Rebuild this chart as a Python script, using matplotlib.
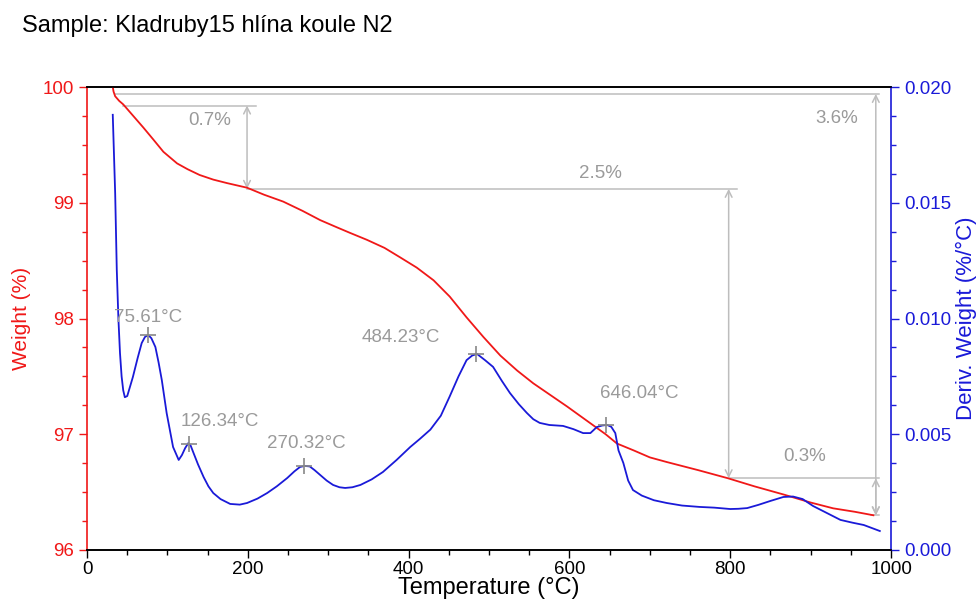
import matplotlib
matplotlib.use("Agg")
import matplotlib.pyplot as plt
from matplotlib.ticker import MultipleLocator, FormatStrFormatter

plt.rcParams['font.family'] = ['Liberation Sans', 'DejaVu Sans']

# ---- data ----
temp_w = [32, 33, 35, 40, 45, 50, 60, 70, 82, 95, 112, 125, 140, 157, 174, 199, 220, 244, 268, 290,
          310, 327, 348, 370, 389, 410, 431, 451, 472, 493, 514, 535, 555, 576, 597, 613, 629,
          645, 659, 680, 700, 721, 760, 797, 830, 866, 900, 928, 955, 978]
weight = [100.0, 99.96, 99.92, 99.88, 99.85, 99.81, 99.73, 99.65, 99.55, 99.44, 99.34, 99.29, 99.24,
          99.20, 99.17, 99.13, 99.07, 99.01, 98.93, 98.85, 98.79, 98.74, 98.68, 98.61, 98.53,
          98.44, 98.33, 98.19, 98.01, 97.84, 97.68, 97.55, 97.44, 97.34, 97.24, 97.16, 97.08,
          97.00, 96.92, 96.86, 96.80, 96.76, 96.69, 96.62, 96.55, 96.48, 96.41, 96.36, 96.33, 96.30]

temp_d = [32, 35, 37, 39, 41, 43, 45, 47, 50, 53, 57, 63, 68, 72, 76, 80, 85, 89, 93, 99, 107, 114, 118,
          122, 126, 129, 132, 138, 145, 151, 157, 166, 178, 190, 199, 212, 224, 236, 249, 258,
          265, 271, 277, 283, 290, 298, 306, 314, 321, 330, 340, 354, 368, 385, 402, 414, 427,
          440, 451, 462, 472, 479, 485, 495, 505, 516, 526, 537, 547, 555, 563, 575, 592, 605,
          617, 626, 634, 641, 647, 652, 657, 661, 667, 673, 679, 690, 705, 721, 740, 762, 780,
          800, 810, 821, 835, 850, 866, 878, 890, 903, 920, 937, 952, 966, 986]
deriv = [0.0188, 0.0154, 0.0121, 0.0100, 0.0085, 0.0075, 0.0069, 0.00660, 0.00665, 0.00700,
         0.00747, 0.00830, 0.00894,
         0.00920, 0.00929, 0.00915, 0.00877, 0.00810, 0.00734, 0.00592, 0.00445, 0.00389, 0.00410,
         0.00440, 0.00462, 0.00450, 0.00423, 0.00370, 0.00315, 0.00275, 0.00246, 0.00220, 0.00199,
         0.00196, 0.00203, 0.00222, 0.00246, 0.00275, 0.00311, 0.00340, 0.00359, 0.00363, 0.00361,
         0.00345, 0.00324, 0.00300, 0.00281, 0.00271, 0.00268, 0.00271, 0.00281, 0.00305, 0.00337,
         0.00389, 0.00445, 0.00480, 0.00520, 0.00580, 0.00663, 0.00750, 0.00820, 0.00840, 0.00847,
         0.00820, 0.00791, 0.00730, 0.00678, 0.00630, 0.00592, 0.00565, 0.00549, 0.00540, 0.00536,
         0.00522, 0.00505, 0.00505, 0.00531, 0.00538, 0.00540, 0.00532, 0.00505, 0.00430, 0.00376,
         0.00300, 0.00259, 0.00235, 0.00215, 0.00203, 0.00192, 0.00186, 0.00183, 0.00177, 0.00178,
         0.00181, 0.00195, 0.00212, 0.00229, 0.00231, 0.00220, 0.00190, 0.00160, 0.00130, 0.00118,
         0.00108, 0.00082]

peak_t = [75.61, 126.34, 270.32, 484.23, 646.04]
peak_d = [0.00929, 0.00458, 0.00361, 0.00847, 0.00540]
peak_labels = ["75.61°C", "126.34°C", "270.32°C", "484.23°C", "646.04°C"]
peak_label_pos = [(76.5, 0.01006), (165, 0.00553), (273, 0.00462), (390, 0.00920), (687, 0.00674)]

# weight-step annotations: (x of arrow, top weight, bottom weight, label, label x, label y)
steps = [(199, 99.84, 99.12, "0.7%", 153, 99.71),
         (798, 99.12, 96.62, "2.5%", 638, 99.25),
         (981, 96.62, 96.30, "0.3%", 892, 96.81),
         (981, 99.94, 96.30, "3.6%", 932, 99.73)]
hlines = [(99.94, 35, 985), (99.84, 45, 210), (99.12, 199, 808), (96.62, 798, 985), (96.30, 975, 985)]

RED = '#f01818'
BLUE = '#1a1ad8'
GRAY = '#9a9a9a'
LGRAY = '#bdbdbd'

fig = plt.figure(figsize=(9.79, 6.03), dpi=100)
ax1 = fig.add_axes([0.0889, 0.0879, 0.8213, 0.7678])
ax2 = ax1.twinx()

ax1.plot(temp_w, weight, color=RED, lw=1.3, zorder=3)
ax2.plot(temp_d, deriv, color=BLUE, lw=1.3, zorder=3)

# annotations on weight axis
for y, x0, x1 in hlines:
    ax1.plot([x0, x1], [y, y], color=LGRAY, lw=1.1, zorder=1)
for x, ytop, ybot, lab, lx, ly in steps:
    ax1.annotate('', xy=(x, ybot), xytext=(x, ytop),
                 arrowprops=dict(arrowstyle='<->', color=LGRAY, lw=1.1,
                                 shrinkA=0, shrinkB=0, mutation_scale=12), zorder=1)
    ax1.text(lx, ly, lab, color=GRAY, fontsize=13.5, ha='center', va='center')

ax2.plot(peak_t, peak_d, linestyle='none', marker='+', ms=11, mew=1.2, color='#888888', zorder=4)
for (lx, ly), lab in zip(peak_label_pos, peak_labels):
    ax2.text(lx, ly, lab, color=GRAY, fontsize=13.5, ha='center', va='center')

ax1.set_xlim(0, 1000)
ax1.set_ylim(96, 100)
ax2.set_ylim(0, 0.020)

ax1.xaxis.set_major_locator(MultipleLocator(200))
ax1.xaxis.set_minor_locator(MultipleLocator(50))
ax1.yaxis.set_major_locator(MultipleLocator(1))
ax1.yaxis.set_minor_locator(MultipleLocator(0.25))
ax2.yaxis.set_major_locator(MultipleLocator(0.005))
ax2.yaxis.set_minor_locator(MultipleLocator(0.00125))
ax2.yaxis.set_major_formatter(FormatStrFormatter('%.3f'))
ax1.yaxis.set_major_formatter(FormatStrFormatter('%d'))

ax1.tick_params(axis='x', which='major', direction='out', length=6, width=1, labelsize=13.5, colors='black')
ax1.tick_params(axis='x', which='minor', direction='out', length=3.5, width=1, colors='black')
ax1.tick_params(axis='y', which='major', direction='out', length=6, width=1, labelsize=13.5, colors=RED)
ax1.tick_params(axis='y', which='minor', direction='out', length=3.5, width=1, colors=RED)
ax2.tick_params(axis='y', which='major', direction='out', length=6, width=1, labelsize=13.5, colors=BLUE)
ax2.tick_params(axis='y', which='minor', direction='out', length=3.5, width=1, colors=BLUE)
ax1.tick_params(axis='x', pad=2)

for ax in (ax1, ax2):
    ax.spines['top'].set_color('black')
    ax.spines['bottom'].set_color('black')
ax1.spines['left'].set_color(RED)
ax1.spines['right'].set_visible(False)
ax2.spines['left'].set_visible(False)
ax2.spines['right'].set_color(BLUE)
for ax in (ax1, ax2):
    for s in ax.spines.values():
        s.set_linewidth(1.2)

ax1.set_xlabel('Temperature (°C)', fontsize=17, color='black', labelpad=-1)
ax1.set_ylabel('Weight (%)', fontsize=15, color=RED, labelpad=8)
ax2.set_ylabel('Deriv. Weight (%/°C)', fontsize=16, color=BLUE, labelpad=3)

fig.text(22 / 979, 1 - 26 / 603, 'Sample: Kladruby15 hlína koule N2', fontsize=17,
         ha='left', va='center', color='black')

fig.savefig('out.png', dpi=100)
